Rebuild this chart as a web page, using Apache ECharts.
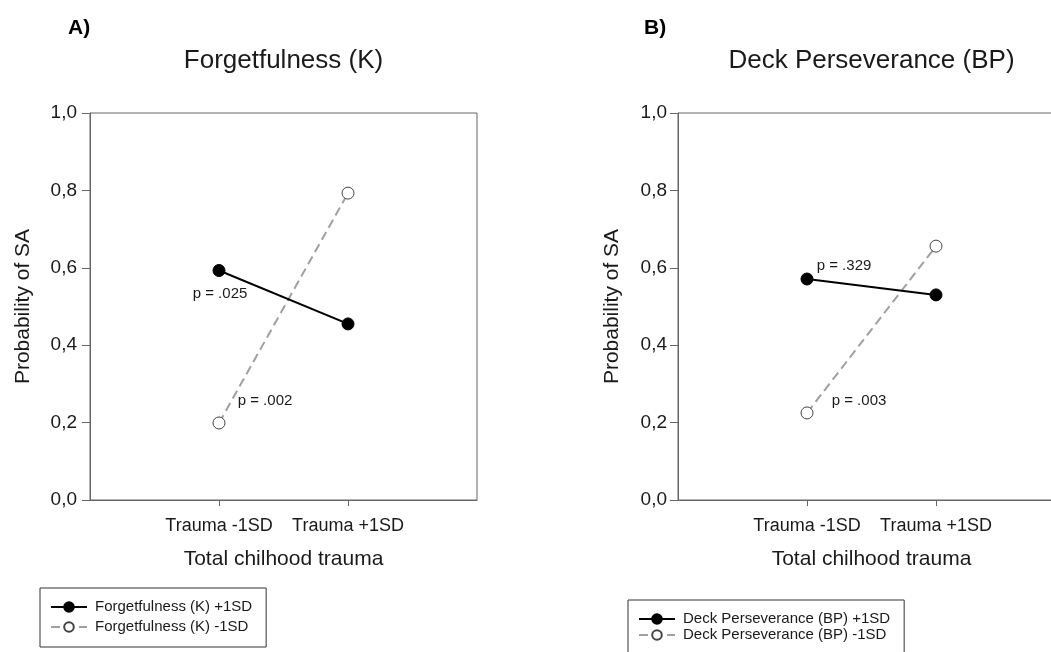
<!DOCTYPE html>
<html>
<head>
<meta charset="utf-8">
<script src="https://cdn.jsdelivr.net/npm/echarts@6/dist/echarts.min.js"></script>
<style>
html,body{margin:0;padding:0;background:#fff;overflow:hidden;width:1051px;height:652px;}
#c{width:1070px;height:700px;}
</style>
</head>
<body>
<div id="c"></div>
<script>
// ---- data ----
var categories = ['Trauma -1SD', 'Trauma +1SD'];
var yTicks = [0, 0.2, 0.4, 0.6, 0.8, 1.0];
var panelLetters = ['A)', 'B)'];
var panelTitles = ['Forgetfulness (K)', 'Deck Perseverance (BP)'];
var xAxisName = 'Total chilhood trauma';
var yAxisName = 'Probability of SA';

var forgetPlusName = 'Forgetfulness (K) +1SD';
var forgetMinusName = 'Forgetfulness (K) -1SD';
var forgetPlus = [0.593, 0.455];
var forgetMinus = [0.199, 0.793];

var deckPlusName = 'Deck Perseverance (BP) +1SD';
var deckMinusName = 'Deck Perseverance (BP) -1SD';
var deckPlus = [0.571, 0.530];
var deckMinus = [0.225, 0.656];

var pLabels = {
  forgetPlus: 'p = .025',
  forgetMinus: 'p = .002',
  deckPlus: 'p = .329',
  deckMinus: 'p = .003'
};

// ---- helpers ----
var FONT = '"Liberation Sans", Arial, sans-serif';
var AXIS_COLOR = '#666';
var TEXT_COLOR = '#1a1a1a';

function padData(vals, labelText, labelOffset) {
  var out = [null];
  vals.forEach(function (v, i) {
    if (i === 0 && labelText) {
      out.push({
        value: v,
        label: {
          show: true,
          formatter: labelText,
          position: 'inside',
          offset: labelOffset,
          fontSize: 15,
          fontFamily: FONT,
          color: TEXT_COLOR
        }
      });
    } else {
      out.push(v);
    }
  });
  out.push(null);
  return out;
}

function xAxisDef(gridIndex) {
  return {
    type: 'category',
    gridIndex: gridIndex,
    data: [''].concat(categories).concat(['']),
    boundaryGap: false,
    axisLine: { show: true, lineStyle: { color: AXIS_COLOR, width: 1 } },
    axisTick: {
      show: true, length: 6, lineStyle: { color: AXIS_COLOR },
      interval: function (idx) { return idx === 1 || idx === 2; }
    },
    axisLabel: {
      interval: 0, margin: 17, fontSize: 18, fontFamily: FONT, color: TEXT_COLOR
    },
    splitLine: { show: false },
    name: xAxisName,
    nameLocation: 'middle',
    nameGap: 49,
    nameTextStyle: { fontSize: 21, fontFamily: FONT, color: TEXT_COLOR }
  };
}

function yAxisDef(gridIndex, gap, margin) {
  return {
    type: 'value',
    gridIndex: gridIndex,
    min: yTicks[0],
    max: yTicks[yTicks.length - 1],
    interval: 0.2,
    axisLine: { show: true, lineStyle: { color: AXIS_COLOR, width: 1 } },
    axisTick: { show: true, length: 8, lineStyle: { color: AXIS_COLOR } },
    axisLabel: {
      margin: margin, fontSize: 19, fontFamily: FONT, color: TEXT_COLOR,
      formatter: function (v) { return v.toFixed(1).replace('.', ','); }
    },
    splitLine: { show: false },
    name: yAxisName,
    nameLocation: 'middle',
    nameGap: gap,
    nameTextStyle: { fontSize: 21, fontFamily: FONT, color: TEXT_COLOR }
  };
}

function plusSeries(name, vals, idx, label, offset) {
  return {
    type: 'line', name: name, xAxisIndex: idx, yAxisIndex: idx,
    data: padData(vals, label, offset),
    symbol: 'circle', symbolSize: 12, showSymbol: true,
    lineStyle: { color: '#000', width: 2, type: 'solid' },
    itemStyle: { color: '#000', borderColor: '#000', borderWidth: 1 },
    emphasis: { disabled: true },
    z: 3,
    animation: false
  };
}
function minusSeries(name, vals, idx, label, offset) {
  return {
    type: 'line', name: name, xAxisIndex: idx, yAxisIndex: idx,
    data: padData(vals, label, offset),
    symbol: 'circle', symbolSize: 12, showSymbol: true,
    lineStyle: { color: '#a0a0a0', width: 2, type: [9, 5] },
    itemStyle: { color: '#fff', borderColor: '#444', borderWidth: 1 },
    emphasis: { disabled: true },
    z: 2,
    animation: false
  };
}

function legendDef(names, left, top, gap, padding) {
  return {
    data: names,
    orient: 'vertical',
    left: left, top: top,
    itemWidth: 36, itemHeight: 12, itemGap: gap,
    padding: padding,
    borderColor: '#333', borderWidth: 1,
    selectedMode: false,
    textStyle: { fontSize: 15, fontFamily: FONT, color: TEXT_COLOR, lineHeight: 16, padding: [0, 0, 0, 3] }
  };
}

var chart = echarts.init(document.getElementById('c'));
var option = {
  animation: false,
  backgroundColor: '#fff',
  grid: [
    { left: 90, top: 113, width: 387, height: 387, show: true, borderColor: AXIS_COLOR, borderWidth: 1, containLabel: false },
    { left: 678, top: 113, width: 387, height: 387, show: true, borderColor: AXIS_COLOR, borderWidth: 1, containLabel: false }
  ],
  xAxis: [xAxisDef(0), xAxisDef(1)],
  yAxis: [yAxisDef(0, 56, 13), yAxisDef(1, 55, 11)],
  legend: [
    legendDef([forgetPlusName, forgetMinusName], 40, 588, 4, [11, 14, 12, 10]),
    legendDef([deckPlusName, deckMinusName], 628, 600, 0, [11, 14, 10, 10])
  ],
  series: [
    plusSeries(forgetPlusName, forgetPlus, 0, pLabels.forgetPlus, [1, 23]),
    minusSeries(forgetMinusName, forgetMinus, 0, pLabels.forgetMinus, [46, -22]),
    plusSeries(deckPlusName, deckPlus, 1, pLabels.deckPlus, [37, -13]),
    minusSeries(deckMinusName, deckMinus, 1, pLabels.deckMinus, [52, -12])
  ],
  graphic: [
    { type: 'text', left: 68, top: 18, style: { text: panelLetters[0], font: 'bold 21px ' + FONT, fill: '#000' } },
    { type: 'text', left: 644, top: 18, style: { text: panelLetters[1], font: 'bold 21px ' + FONT, fill: '#000' } },
    { type: 'text', x: 283.5, y: 61, style: { text: panelTitles[0], font: '26px ' + FONT, fill: TEXT_COLOR, align: 'center', verticalAlign: 'middle' } },
    { type: 'text', x: 871.5, y: 61, style: { text: panelTitles[1], font: '26px ' + FONT, fill: TEXT_COLOR, align: 'center', verticalAlign: 'middle' } }
  ]
};
chart.setOption(option);
</script>
</body>
</html>
